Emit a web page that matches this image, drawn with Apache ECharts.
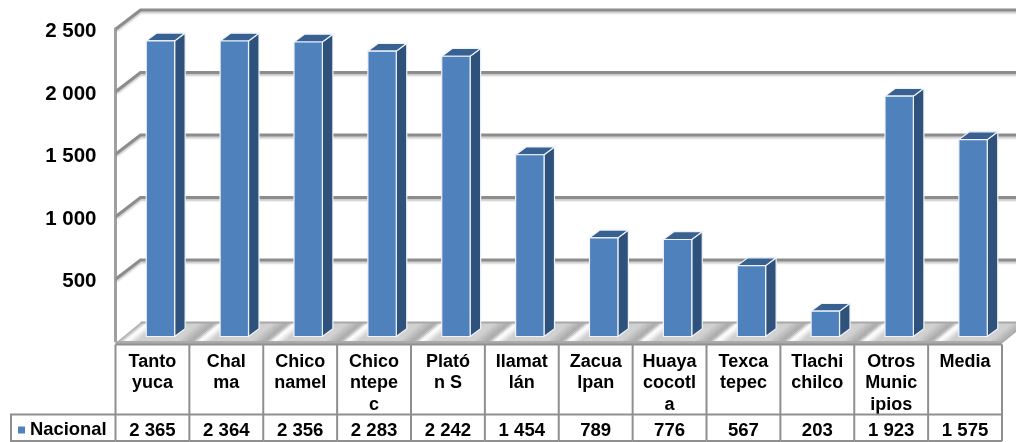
<!DOCTYPE html>
<html><head><meta charset="utf-8">
<style>html,body{margin:0;padding:0;background:#fff}#c{width:1016px;height:442px}</style>
<script src="https://cdn.jsdelivr.net/npm/echarts@6/dist/echarts.min.js"></script>
</head><body><div id="c"></div>
<script>
const categories = ["Tanto\nyuca","Chal\nma","Chico\nnamel","Chico\nntepe\nc","Plató\nn S","Ilamat\nlán","Zacua\nlpan","Huaya\ncocotl\na","Texca\ntepec","Tlachi\nchilco","Otros\nMunic\nipios","Media"];
const nacional = [2365,2364,2356,2283,2242,1454,789,776,567,203,1923,1575];
const yTicks = [0,500,1000,1500,2000,2500];
const seriesName = "Nacional";

const fmt = v => { const s = String(v); return s.length > 3 ? s.slice(0,-3) + " " + s.slice(-3) : s; };
const FONT = '"Liberation Sans", Arial, sans-serif';
const WALL = {dx:25, dy:-18.5};
const GRID = {left:115.5, right:14, top:28.5, bottom:101};
const LINE = '#8c8c8c';
const SHEEN = [[0,168],[.04,190],[.1,255],[.16,244],[.26,205],[.8,208],[.9,188],[1,168]];

const chart = echarts.init(document.getElementById('c'), null, {renderer:'canvas'});

function sheenGray(r){
  for (let k = 1; k < SHEEN.length; k++) {
    if (r <= SHEEN[k][0]) {
      const [a,ga] = SHEEN[k-1], [b,gb] = SHEEN[k];
      const g = Math.round(ga + (gb-ga)*(r-a)/(b-a));
      return 'rgb('+g+','+g+','+g+')';
    }
  }
  return '#a8a8a8';
}

function renderWall(params, api){
  const v = api.value(0);
  const b = api.size([1,0])[0];
  const p0 = api.coord([0, v]);
  const xL = p0[0] - b/2, xR = xL + b*categories.length, y = p0[1];
  if (v === 0) {
    const children = [];
    const N = 30;
    for (let i = 0; i < categories.length; i++) {
      for (let k = 0; k < N; k++) {
        const x1 = xL + (i + k/N)*b, x2 = xL + (i + (k+1)/N)*b + 0.6;
        const c = sheenGray((k+0.5)/N);
        children.push({type:'polygon', silent:true,
          shape:{points:[[x1,y+2],[x2,y+2],[x2+WALL.dx,y+WALL.dy],[x1+WALL.dx,y+WALL.dy]]},
          style:{fill:c}});
      }
    }
    children.push({type:'line', shape:{x1:xL+WALL.dx,y1:y+WALL.dy,x2:xR+WALL.dx,y2:y+WALL.dy}, style:{stroke:'#a8a8a8',lineWidth:2}});
    children.push({type:'line', shape:{x1:xL,y1:y+1.5,x2:xR,y2:y+1.5}, style:{stroke:'#aaaaaa',lineWidth:3}});
    return {type:'group', children};
  }
  return {type:'group', children:[
    {type:'polyline', shape:{points:[[xL+1,y],[xL+WALL.dx,y+WALL.dy],[xR+WALL.dx,y+WALL.dy]]},
     style:{stroke:LINE,lineWidth:3,fill:null,shadowColor:'rgba(0,0,0,0.22)',shadowBlur:2,shadowOffsetY:2}}
  ]};
}

function renderBar(params, api){
  const i = api.value(0), v = api.value(1);
  const base = api.coord([i,0]), top = api.coord([i,v]);
  const ox = 8, oy = 4.5, hw = 14.2, dx = 10.5, dy = -7.8;
  const x0 = base[0]+ox-hw, x1 = base[0]+ox+hw;
  const yb = base[1]-oy, yt = top[1]-oy;
  const edge = {stroke:'#eef3f9', lineWidth:1.2};
  return {type:'group', children:[
    {type:'polygon', shape:{points:[[x1,yb],[x1+dx,yb+dy],[x1+dx,yt+dy],[x1,yt]]}, style:{fill:'#2f527c',...edge}},
    {type:'polygon', shape:{points:[[x0,yt],[x1,yt],[x1+dx,yt+dy],[x0+dx,yt+dy]]}, style:{fill:'#386090',...edge}},
    {type:'rect', shape:{x:x0,y:yt,width:x1-x0,height:yb-yt}, style:{fill:api.visual('color'),...edge}}
  ]};
}

function renderTable(params, api){
  const i = api.value(0);
  const b = api.size([1,0])[0];
  const c = api.coord([i,0]);
  const x = c[0]-b/2, top = c[1]+3.5, mid = c[1]+73.5, bot = 441;
  const st = {stroke:'#8f8f8f', lineWidth:2};
  const ch = [
    {type:'line',shape:{x1:x+b,y1:top,x2:x+b,y2:bot},style:st},
    {type:'line',shape:{x1:x,y1:top,x2:x+b,y2:top},style:st},
    {type:'line',shape:{x1:x,y1:mid,x2:x+b,y2:mid},style:st},
    {type:'line',shape:{x1:x,y1:bot,x2:x+b,y2:bot},style:st}
  ];
  if (i === 0) {
    ch.push({type:'line',shape:{x1:x,y1:top,x2:x,y2:bot},style:st});
    ch.push({type:'polyline',shape:{points:[[x,mid],[11,mid],[11,bot],[x,bot]]},style:{...st,fill:null}});
  }
  return {type:'group',children:ch};
}

chart.setOption({
  animation:false,
  backgroundColor:'#ffffff',
  grid:GRID,
  legend:{data:[seriesName], left:13, top:416, icon:'rect', itemWidth:7, itemHeight:7, itemGap:5,
    textStyle:{fontFamily:FONT,fontWeight:'bold',fontSize:18.4,color:'#000'}},
  xAxis:[
    {type:'category', data:categories, position:'bottom',
     axisLine:{show:false}, axisTick:{show:false}, splitLine:{show:false},
     axisLabel:{interval:0, margin:10, fontFamily:FONT, fontWeight:'bold', fontSize:18, color:'#000', lineHeight:21.5, verticalAlign:'top', align:'center'}},
    {type:'category', data:nacional.map(fmt), position:'bottom', offset:80,
     axisLine:{show:false}, axisTick:{show:false}, splitLine:{show:false},
     axisLabel:{interval:0, margin:0, fontFamily:FONT, fontWeight:'bold', fontSize:18.6, color:'#000', verticalAlign:'top', align:'center'}}
  ],
  yAxis:{type:'value', min:0, max:2500, interval:500,
    axisLine:{show:true, lineStyle:{color:'#a0a0a0', width:3}}, axisTick:{show:false}, splitLine:{show:false},
    axisLabel:{margin:19, verticalAlign:'top', lineHeight:6, fontFamily:FONT, fontWeight:'bold', fontSize:20.5, color:'#000', formatter:v=>v===0?'':fmt(v)}},
  series:[
    {type:'custom', name:'paredes', coordinateSystem:'cartesian2d', clip:false, silent:true, z:1,
     data:yTicks.map(v=>[v]), encode:{x:-1,y:0}, renderItem:renderWall},
    {type:'custom', name:'tabla', coordinateSystem:'cartesian2d', clip:false, silent:true, z:2,
     data:nacional.map((v,i)=>[i,0]), encode:{x:0,y:1}, renderItem:renderTable},
    {type:'custom', name:seriesName, coordinateSystem:'cartesian2d', clip:false, z:3,
     itemStyle:{color:'#4f81bd'},
     data:nacional.map((v,i)=>[i,v]), encode:{x:0,y:1}, renderItem:renderBar}
  ]
});
</script></body></html>
